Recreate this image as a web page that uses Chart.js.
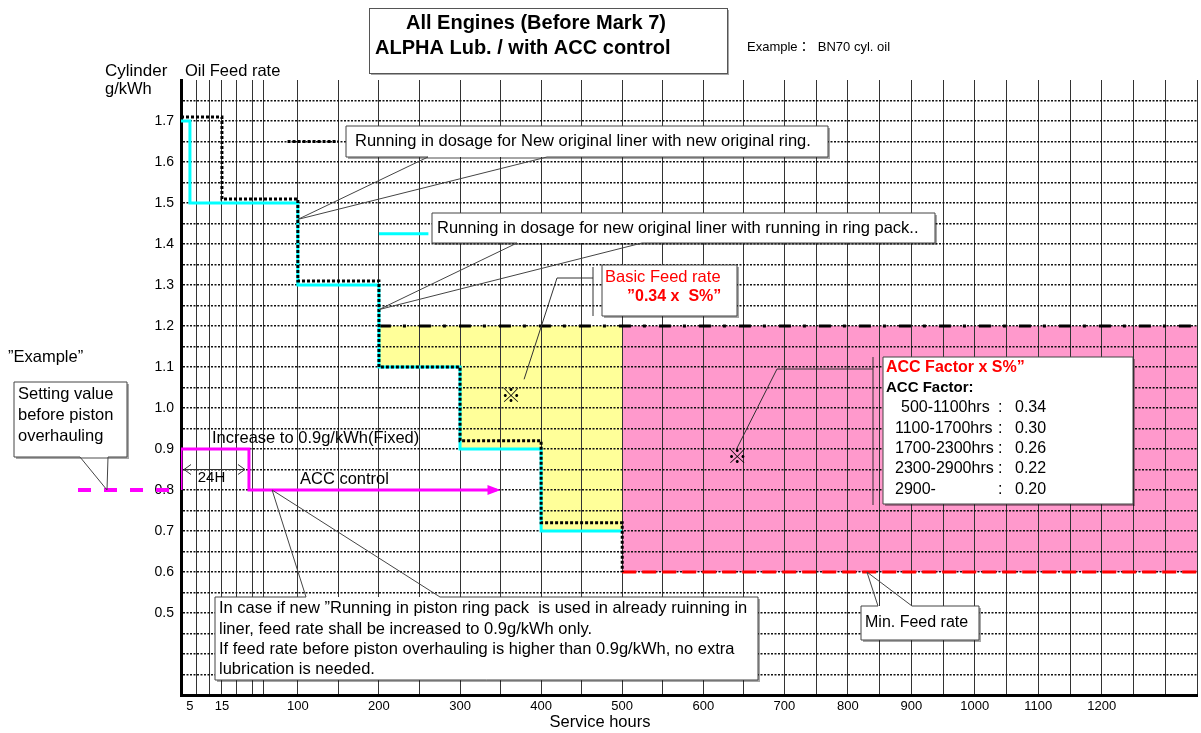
<!DOCTYPE html>
<html>
<head>
<meta charset="utf-8">
<title>ALPHA Lub. / with ACC control</title>
<script src="https://cdn.jsdelivr.net/npm/chart.js@4.4.0/dist/chart.umd.min.js"></script>
<style>
  html, body { margin: 0; padding: 0; background: #fff; }
  #caixa { width: 1201px; height: 733px; }
</style>
</head>
<body>
<div id="caixa"><canvas id="grafico" width="1201" height="733"></canvas></div>
<script>
// values (service hours / g/kWh)

// running in dosage: new original liner + new original ring (black dotted)
const newRingHours = [0, 15, 100, 200, 300, 400, 500];
const newRingRate  = [1.71, 1.51, 1.31, 1.10, 0.92, 0.72, 0.60];

// running in dosage: new original liner + running in ring pack (cyan)
const ringPackHours = [0, 5, 100, 200, 300, 400, 500];
const ringPackRate  = [1.70, 1.50, 1.30, 1.10, 0.90, 0.70, 0.70];

// basic feed rate "0.34 x S%" (dash-dot)
const basicFeedHours = [200, 1350];
const basicFeedRate  = [1.20, 1.20];

// min. feed rate (red dashed), pink ACC band sits between this and the basic rate
const minFeedHours = [500, 1350];
const minFeedRate  = [0.60, 0.60];

// yellow band: below basic rate, above the running in stair
const yellowHours = [200, 300, 400, 500];
const yellowRate  = [1.10, 0.90, 0.70, 0.70];

// "Example" after piston overhaul (magenta)
const exampleHours = [0, 0, 24, 24, 345];
const exampleRate  = [0.80, 0.90, 0.90, 0.80, 0.80];

// short key lines next to the two callouts
const keyNewRingHours  = [84, 150];
const keyNewRingRate   = [1.65, 1.65];
const keyRingPackHours = [200, 261];
const keyRingPackRate  = [1.425, 1.425];

// ACC factor table
const accRanges  = ['500-1100hrs', '1100-1700hrs', '1700-2300hrs', '2300-2900hrs', '2900-'];
const accFactors = [0.34, 0.30, 0.26, 0.22, 0.20];

// axis ticks
const xLabelHours = [5, 15, 100, 200, 300, 400, 500, 600, 700, 800, 900, 1000, 1100, 1200];
const xGridHours  = [7, 11, 15, 20, 29, 47, 100, 150, 200, 250, 300, 350, 400, 450, 500, 550, 600,
                     650, 700, 750, 800, 850, 900, 950, 1000, 1050, 1100, 1150, 1200, 1250, 1300, 1350];
const yLabelValues = [0.5, 0.6, 0.7, 0.8, 0.9, 1.0, 1.1, 1.2, 1.3, 1.4, 1.5, 1.6, 1.7];

// the hour axis of the original is not linear: first hours are stretched, after 700h it is squeezed
const axisKnotHours = [0, 5, 15, 24, 100, 700, 1350];
const axisKnotFrac  = [0, 0.0088, 0.0403, 0.0669, 0.1150, 0.5939, 1];

function hoursToFrac(h) {
  const k = axisKnotHours, f = axisKnotFrac;
  let i = 0;
  while (i < k.length - 2 && h > k[i + 1]) i++;
  return f[i] + (h - k[i]) * (f[i + 1] - f[i]) / (k[i + 1] - k[i]);
}
function fracToHours(d) {
  const k = axisKnotHours, f = axisKnotFrac;
  let i = 0;
  while (i < f.length - 2 && d > f[i + 1]) i++;
  return k[i] + (d - f[i]) * (k[i + 1] - k[i]) / (f[i + 1] - f[i]);
}

class BrokenHourScale extends Chart.LinearScale {
  getPixelForValue(value) {
    if (value === null || value === undefined || isNaN(value)) return NaN;
    return this.getPixelForDecimal(hoursToFrac(value));
  }
  getValueForPixel(pixel) {
    return fracToHours(this.getDecimalForPixel(pixel));
  }
}
BrokenHourScale.id = 'brokenHours';
BrokenHourScale.defaults = {};
Chart.register(BrokenHourScale);

const fonte = '"Liberation Sans", Arial, "Noto Sans CJK JP", sans-serif';
Chart.defaults.font.family = fonte;
Chart.defaults.color = '#000';

const pts = (hs, vs) => hs.map((h, i) => ({ x: h, y: vs[i] }));
const xTickHours = Array.from(new Set([0, ...xLabelHours, ...xGridHours])).sort((a, b) => a - b);

// text + callouts drawn on top of the plot
function escreve(ctx, s, x, y, size, opts) {
  opts = opts || {};
  ctx.save();
  ctx.font = (opts.bold ? 'bold ' : '') + size + 'px ' + fonte;
  ctx.fillStyle = opts.color || '#000';
  ctx.textAlign = opts.align || 'left';
  ctx.textBaseline = 'middle';
  ctx.fillText(s, x, y);
  ctx.restore();
}

function balao(ctx, b, side, baseA, baseB, tip) {
  // white box with shadow
  ctx.save();
  ctx.shadowColor = 'rgba(0,0,0,0.35)';
  ctx.shadowOffsetX = 2;
  ctx.shadowOffsetY = 2;
  ctx.fillStyle = '#fff';
  ctx.fillRect(b.x, b.y, b.w, b.h);
  ctx.restore();
  // outline with the pointer
  ctx.save();
  ctx.strokeStyle = '#444';
  ctx.lineWidth = 1;
  ctx.beginPath();
  ctx.moveTo(b.x, b.y);
  if (side === 'top') { ctx.lineTo(baseA, b.y); ctx.lineTo(tip.x, tip.y); ctx.lineTo(baseB, b.y); }
  ctx.lineTo(b.x + b.w, b.y);
  ctx.lineTo(b.x + b.w, b.y + b.h);
  if (side === 'bottom') { ctx.lineTo(baseB, b.y + b.h); ctx.lineTo(tip.x, tip.y); ctx.lineTo(baseA, b.y + b.h); }
  ctx.lineTo(b.x, b.y + b.h);
  ctx.closePath();
  ctx.stroke();
  ctx.restore();
}

function linha(ctx, p, cor, w, dash) {
  ctx.save();
  ctx.strokeStyle = cor;
  ctx.lineWidth = w;
  ctx.setLineDash(dash || []);
  ctx.beginPath();
  ctx.moveTo(p[0], p[1]);
  for (let i = 2; i < p.length; i += 2) ctx.lineTo(p[i], p[i + 1]);
  ctx.stroke();
  ctx.restore();
}

const T = 16.5; // body text size of the notes

const notas = {
  id: 'notas',
  afterDraw(chart) {
    const ctx = chart.ctx;
    const area = chart.chartArea;
    const X = h => chart.scales.x.getPixelForValue(h);
    const Y = v => chart.scales.y.getPixelForValue(v);

    // title box
    ctx.save();
    ctx.shadowColor = 'rgba(0,0,0,0.35)';
    ctx.shadowOffsetX = 2;
    ctx.shadowOffsetY = 2;
    ctx.fillStyle = '#fff';
    ctx.fillRect(369, 8, 358, 65);
    ctx.restore();
    ctx.strokeStyle = '#555';
    ctx.lineWidth = 1;
    ctx.strokeRect(369.5, 8.5, 358, 65);
    escreve(ctx, 'All Engines (Before Mark 7)', 536, 23, 20, { bold: true, align: 'center' });
    escreve(ctx, 'ALPHA Lub. / with ACC control', 375, 48, 20, { bold: true });
    escreve(ctx, 'Example：  BN70 cyl. oil', 747, 47, 13);

    // axis titles
    escreve(ctx, 'Cylinder', 105, 71, 17);
    escreve(ctx, 'Oil Feed rate', 185, 71, 16.5);
    escreve(ctx, 'g/kWh', 105, 89, 16.5);
    escreve(ctx, 'Service hours', 600, 722, 16.5, { align: 'center' });

    // magenta "Example": setting value before piston overhauling
    const yEx = Y(exampleRate[0]);
    linha(ctx, [area.left - 103, yEx, area.left - 8, yEx], '#ff00ff', 4, [13, 13]);
    // arrow head at end of ACC control line
    const xe = X(exampleHours[exampleHours.length - 1]);
    const ye = Y(exampleRate[exampleRate.length - 1]);
    ctx.save();
    ctx.fillStyle = '#ff00ff';
    ctx.beginPath();
    ctx.moveTo(xe + 4, ye);
    ctx.lineTo(xe - 9, ye - 5);
    ctx.lineTo(xe - 9, ye + 5);
    ctx.closePath();
    ctx.fill();
    ctx.restore();

    // 24H arrow
    const y24 = Y(0.85);
    const a0 = X(0) + 3, a1 = X(24) - 4;
    linha(ctx, [a0, y24, a1, y24], '#333', 1);
    linha(ctx, [a0 + 7, y24 - 5, a0, y24, a0 + 7, y24 + 5], '#333', 1);
    linha(ctx, [a1 - 7, y24 - 5, a1, y24, a1 - 7, y24 + 5], '#333', 1);
    escreve(ctx, '24H', (a0 + a1) / 2 - 3, Y(0.83), 15, { align: 'center' });
    escreve(ctx, 'Increase to 0.9g/kWh(Fixed)', area.left + 31, Y(0.925), T);
    escreve(ctx, 'ACC control', area.left + 119, Y(0.825), T);

    escreve(ctx, '”Example”', 8, 357, T);

    // callouts
    balao(ctx, { x: 346, y: 126, w: 482, h: 31 }, 'bottom', 428, 547, { x: X(100), y: Y(1.46) });
    escreve(ctx, 'Running in dosage for New original liner with new original ring.', 355, 141, T);

    balao(ctx, { x: 432, y: 213, w: 503, h: 30 }, 'bottom', 517, 642, { x: X(200), y: Y(1.24) });
    escreve(ctx, 'Running in dosage for new original liner with running in ring pack..', 437, 228, T);

    balao(ctx, { x: 14, y: 382, w: 113, h: 75 }, 'bottom', 80, 108, { x: area.left - 74, y: yEx });
    escreve(ctx, 'Setting value', 18, 394, T);
    escreve(ctx, 'before piston', 18, 415, T);
    escreve(ctx, 'overhauling', 18, 436, T);

    balao(ctx, { x: 215, y: 597, w: 543, h: 83 }, 'top', 306, 440, { x: X(60), y: Y(0.8) });
    escreve(ctx, 'In case if new ”Running in piston ring pack  is used in already ruinning in', 219, 608, T);
    escreve(ctx, 'liner, feed rate shall be increased to 0.9g/kWh only.', 219, 629, T);
    escreve(ctx, 'If feed rate before piston overhauling is higher than 0.9g/kWh, no extra', 219, 649, T);
    escreve(ctx, 'lubrication is needed.', 219, 669, T);

    balao(ctx, { x: 861, y: 606, w: 118, h: 34 }, 'top', 878, 912, { x: X(830), y: Y(minFeedRate[0]) });
    escreve(ctx, 'Min. Feed rate', 865, 623, 16);

    // basic feed rate label with leader to the yellow band
    balao(ctx, { x: 602, y: 265, w: 135, h: 51 }, null);
    escreve(ctx, 'Basic Feed rate', 605, 277, T, { color: '#ff0000' });
    escreve(ctx, '”0.34 x  S%”', 627, 297, 16, { color: '#ff0000', bold: true });
    linha(ctx, [593, 267, 593, 316], '#333', 1);
    linha(ctx, [593, 278, 557, 278, X(379), Y(1.07)], '#333', 1);
    escreve(ctx, '※', X(363), Y(1.025), 20, { align: 'center' });

    // ACC factor table with leader to the pink band
    balao(ctx, { x: 883, y: 357, w: 250, h: 147 }, null);
    linha(ctx, [873, 357, 873, 505], '#333', 1);
    linha(ctx, [873, 369, 777, 369, X(641), Y(0.90)], '#333', 1);
    escreve(ctx, '※', X(642), Y(0.876), 20, { align: 'center' });
    escreve(ctx, 'ACC Factor x S%”', 886, 368, 16, { color: '#ff0000', bold: true });
    escreve(ctx, 'ACC Factor:', 886, 388, 15, { bold: true });
    accRanges.forEach((r, i) => {
      const yy = 408 + i * 20.3;
      escreve(ctx, r, i === 0 ? 901 : 895, yy, 16);
      escreve(ctx, ':', 998, yy, 16);
      escreve(ctx, accFactors[i].toFixed(2), 1015, yy, 16);
    });
  }
};

const linhaBase = { pointRadius: 0, pointHoverRadius: 0, fill: false, borderCapStyle: 'butt' };

new Chart(document.getElementById('grafico'), {
  type: 'line',
  data: {
    datasets: [
      Object.assign({}, linhaBase, {
        label: 'Example after piston overhaul',
        data: pts(exampleHours, exampleRate),
        borderColor: '#ff00ff', borderWidth: 3, order: 0
      }),
      Object.assign({}, linhaBase, {
        label: 'New original liner with new original ring',
        data: pts(newRingHours, newRingRate), stepped: true,
        borderColor: '#000', borderWidth: 3, borderDash: [3, 2], order: 1
      }),
      Object.assign({}, linhaBase, {
        label: 'New original liner with running in ring pack',
        data: pts(ringPackHours, ringPackRate), stepped: true,
        borderColor: '#00ffff', borderWidth: 3, order: 2
      }),
      Object.assign({}, linhaBase, {
        label: 'Basic feed rate',
        data: pts(basicFeedHours, basicFeedRate),
        borderColor: '#000', borderWidth: 3, borderDash: [12, 12, 3, 13], order: 3
      }),
      Object.assign({}, linhaBase, {
        label: 'Min. feed rate',
        data: pts(minFeedHours, minFeedRate),
        borderColor: '#ff0000', borderWidth: 3, borderDash: [14, 6],
        fill: { value: 1.2 }, backgroundColor: '#ff99cc', order: 4
      }),
      Object.assign({}, linhaBase, {
        label: 'Running in band',
        data: pts(yellowHours, yellowRate), stepped: true,
        borderColor: 'rgba(0,0,0,0)', borderWidth: 1,
        fill: { value: 1.2 }, backgroundColor: '#ffff99', order: 5
      }),
      Object.assign({}, linhaBase, {
        label: 'key new ring',
        data: pts(keyNewRingHours, keyNewRingRate),
        borderColor: '#000', borderWidth: 3, borderDash: [3, 2], order: 6
      }),
      Object.assign({}, linhaBase, {
        label: 'key ring pack',
        data: pts(keyRingPackHours, keyRingPackRate),
        borderColor: '#00ffff', borderWidth: 3, order: 7
      })
    ]
  },
  options: {
    responsive: false,
    animation: false,
    layout: { padding: { top: 80, right: 3, left: 0, bottom: 0 } },
    plugins: {
      legend: { display: false },
      tooltip: { enabled: false },
      filler: { drawTime: 'beforeDraw' }
    },
    scales: {
      x: {
        type: 'brokenHours',
        min: 0,
        max: 1350,
        afterBuildTicks: s => { s.ticks = xTickHours.map(v => ({ value: v })); },
        afterFit: s => { s.height = 38; },
        ticks: {
          autoSkip: false, maxRotation: 0, padding: 4,
          font: { size: 13 },
          callback: v => xLabelHours.includes(v) ? String(v) : ''
        },
        grid: {
          drawTicks: false, lineWidth: 1,
          color: c => xGridHours.includes(c.tick && c.tick.value) ? '#333' : 'rgba(0,0,0,0)'
        },
        border: { color: '#000', width: 3 }
      },
      y: {
        min: 0.3,
        max: 1.8,
        afterFit: s => { s.width = 181; },
        ticks: {
          stepSize: 0.05, autoSkip: false, padding: 7,
          font: { size: 14 },
          callback: v => yLabelValues.some(l => Math.abs(l - v) < 1e-6) ? v.toFixed(1) : ''
        },
        grid: {
          drawTicks: false, lineWidth: 1.5,
          color: c => (c.tick && (c.tick.value > 1.79 || c.tick.value < 0.31)) ? 'rgba(0,0,0,0)' : '#111'
        },
        border: { color: '#000', width: 3, dash: [2, 1.5] }
      }
    }
  },
  plugins: [notas]
});
</script>
</body>
</html>
